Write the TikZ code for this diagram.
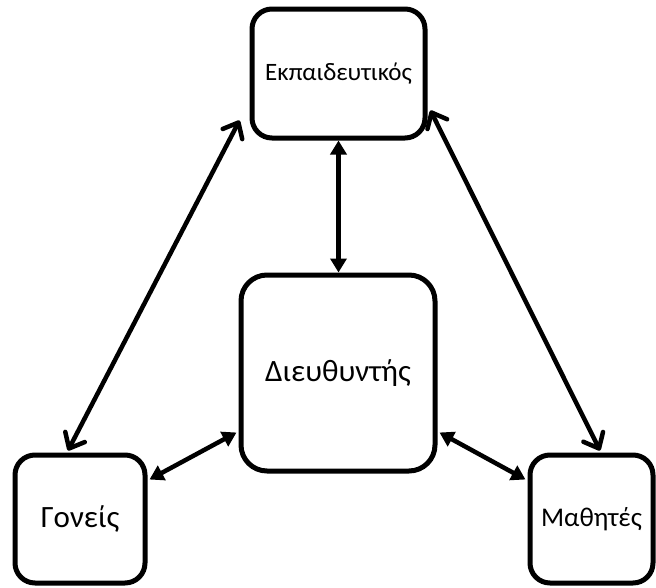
\documentclass[tikz,border=0pt]{standalone}
\usepackage{fontspec}
\setmainfont{Carlito}
\usetikzlibrary{arrows.meta,calc}
\begin{document}
\begin{tikzpicture}[x=1pt,y=-1pt,
  box/.style={draw=black,line width=5pt,rounded corners=20pt,fill=white,inner sep=0pt,align=center},
  tri/.style={line width=4.5pt,{Triangle[length=14pt,width=16pt]}-{Triangle[length=14pt,width=16pt]}},
  barb/.style={line width=4.5pt,line cap=round,{Straight Barb[length=13pt,width=22pt,round]}-{Straight Barb[length=13pt,width=22pt,round]}}]
\useasboundingbox (0,0) rectangle (656,587);
\node[box,minimum width=173pt,minimum height=129pt] (teach) at (338.5,73.5) {\fontsize{25}{30}\selectfont Εκπαιδευτικός};
\node[box,minimum width=194pt,minimum height=196pt,rounded corners=26pt] (dir) at (338,373) {\fontsize{31}{36}\selectfont Διευθυντής};
\node[box,minimum width=130pt,minimum height=128pt] (par) at (80,519) {\fontsize{31}{36}\selectfont Γονείς};
\node[box,minimum width=123pt,minimum height=128pt] (stu) at (591.5,519) {\fontsize{27}{32}\selectfont Μαθητές};
\draw[tri] (teach.south) -- (teach.south |- dir.north);
\draw[barb] ([xshift=-10pt,yshift=20pt]teach.south west) -- ([xshift=-12pt,yshift=2pt]par.north);
\draw[barb] ([xshift=3pt,yshift=30pt]teach.south east) -- ([xshift=8.5pt,yshift=2pt]stu.north);
\draw[tri] ([xshift=-2pt,yshift=41pt]dir.south west) -- ([xshift=2pt,yshift=-27pt]par.north east);
\draw[tri] ([xshift=2pt,yshift=41pt]dir.south east) -- ([xshift=-2pt,yshift=-27pt]stu.north west);
\end{tikzpicture}
\end{document}
